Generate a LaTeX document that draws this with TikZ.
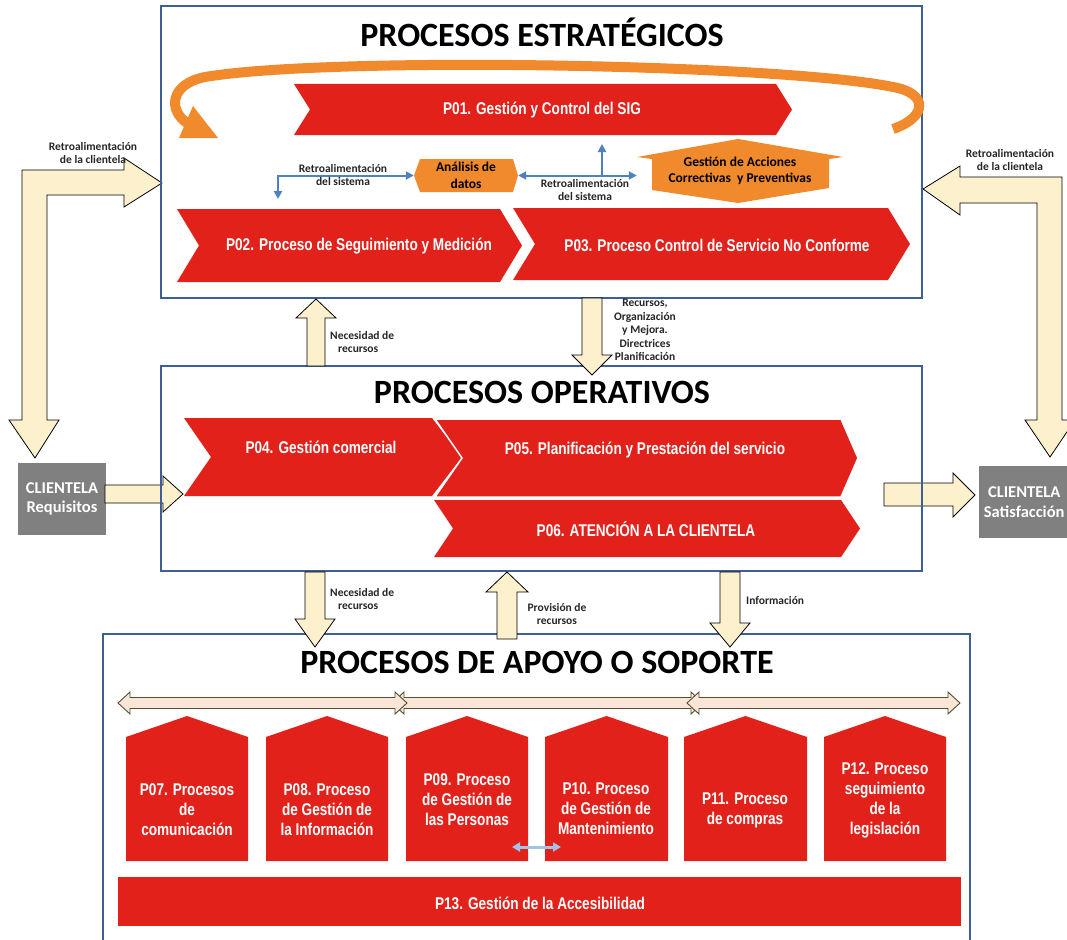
\documentclass[tikz,border=0pt]{standalone}
\usepackage{fontspec}
\setmainfont{Carlito}
\newfontfamily\narrowf[FakeStretch=0.8]{Liberation Sans}
\usetikzlibrary{arrows.meta}
\definecolor{redP}{RGB}{226,33,27}
\definecolor{frameB}{RGB}{60,96,150}
\definecolor{orangeP}{RGB}{240,138,44}
\definecolor{beigeP}{RGB}{253,241,205}
\definecolor{blueL}{RGB}{79,129,189}
\definecolor{peachP}{RGB}{251,229,214}
\definecolor{oliveP}{RGB}{80,80,50}
\definecolor{grayC}{RGB}{128,128,128}
\definecolor{lightblueP}{RGB}{160,196,230}
\newcommand\chevr[6]{\fill[redP] (#1,#3) -- ({#2-#6},#3) -- (#2,{(#3+#4)/2}) -- ({#2-#6},#4) -- (#1,#4) -- ({#1+#5},{(#3+#4)/2}) -- cycle;}
\newcommand\housep[2]{\fill[redP] (#1,861) -- (#1,737) -- ({(#1+#2)/2},716) -- (#2,737) -- (#2,861) -- cycle;}
\newcommand\dblarr[2]{\filldraw[fill=peachP,draw=oliveP,line width=0.9pt] (#1,703) -- ({#1+12},692) -- ({#1+12},697.5) -- ({#2-12},697.5) -- ({#2-12},692) -- (#2,703) -- ({#2-12},714) -- ({#2-12},708.5) -- ({#1+12},708.5) -- ({#1+12},714) -- cycle;}
\newcommand\uparr[6]{\filldraw[fill=beigeP,draw=black,line width=0.8pt] ({#1-#5},#2) -- ({#1-#5},#3) -- ({#1-#6},#3) -- (#1,#4) -- ({#1+#6},#3) -- ({#1+#5},#3) -- ({#1+#5},#2) -- cycle;}
\begin{document}
\begin{tikzpicture}[x=1pt,y=-1pt,
  frame/.style={draw=frameB,line width=2.8pt},
  redtxt/.style={text=white,font=\fontsize{17}{20}\selectfont\narrowf\bfseries,align=center,inner sep=0},
  lbl/.style={font=\bfseries\fontsize{11.5}{13.5}\selectfont,align=center,inner sep=0,text=black!85},
  titlef/.style={font=\bfseries\fontsize{34}{38}\selectfont,inner sep=0},
  orgtxt/.style={font=\bfseries\fontsize{13.5}{16.5}\selectfont,align=center,inner sep=0},
  bluearr/.style={draw=blueL,line width=2pt},
  graybox/.style={fill=grayC,text=white,font=\bfseries\fontsize{16.5}{19.5}\selectfont,align=center,inner sep=0}
]
\useasboundingbox (0,0) rectangle (1067,939);

% ---- left and right feedback L-arrows
\filldraw[fill=beigeP,draw=black,line width=0.8pt] (22,420) -- (9,420) -- (35,458) -- (59,420) -- (47,420) -- (47,195) -- (124,195) -- (124,207) -- (162,183) -- (124,158) -- (124,170) -- (22,170) -- cycle;
\filldraw[fill=beigeP,draw=black,line width=0.8pt] (923,189) -- (960,166) -- (960,177) -- (1062,177) -- (1062,420) -- (1075,420) -- (1050,457) -- (1025,420) -- (1037,420) -- (1037,203) -- (960,203) -- (960,215) -- cycle;
\node[lbl] (fbl) at (93,153) {Retroalimentación\\de la clientela};
\node[lbl] (fbr) at (1010,160) {Retroalimentación\\de la clientela};

% ---- clientela boxes
\node[graybox,minimum width=88,minimum height=72] (req) at (62,499) {CLIENTELA\\Requisitos};
\node[graybox,minimum width=96,minimum height=72,anchor=west] (sat) at (979,502) {\hspace*{-6pt}CLIENTELA\\\hspace*{-6pt}Satisfacción};
\filldraw[fill=beigeP,draw=black,line width=0.8pt] (105,485) -- (163,485) -- (163,476) -- (183,494) -- (163,512) -- (163,503) -- (105,503) -- cycle;
\filldraw[fill=beigeP,draw=black,line width=0.8pt] (884,483) -- (953,483) -- (953,473) -- (975,495) -- (953,517) -- (953,506) -- (884,506) -- cycle;

% ---- frames
\draw[frame] (161,6) rectangle (922,298);
\draw[frame] (161,366) rectangle (922,571);
\draw[frame] (103,945) -- (103,634) -- (970,634) -- (970,945);

% ---- titles
\node[titlef] (t1) at (542,32) {PROCESOS ESTRATÉGICOS};
\node[titlef] (t2) at (542,392) {PROCESOS OPERATIVOS};
\node[titlef] (t3) at (537,662) {PROCESOS DE APOYO O SOPORTE};

% ---- strategic
\chevr{294}{792}{84}{135}{16}{16}
\node[redtxt] (p01) at (542,110) {P01. Gestión y Control del SIG};
\chevr{177}{522}{209}{282}{22}{22}
\node[redtxt] (p02) at (359,246) {P02. Proceso de Seguimiento y Medición};
\chevr{513}{910}{208}{280}{22}{22}
\node[redtxt] (p03) at (717,245) {P03. Proceso Control de Servicio No Conforme};

% orange loop arrow
\draw[orangeP,line width=10pt] (893,129) .. controls (928,117) and (928,93) .. (893,87) .. controls (780,64) and (330,56) .. (205,77) .. controls (170,84) and (168,110) .. (187,123);
\fill[orangeP] (179,138) -- (193,106) -- (218,138) -- cycle;

% analysis hexagon
\fill[orangeP] (414,175.5) -- (420,159) -- (513,159) -- (518,175.5) -- (513,192) -- (420,192) -- cycle;
\node[orgtxt,minimum width=104,minimum height=33] (an) at (466,175.5) {Análisis de\\datos};
% acciones shape
\fill[orangeP] (738,139) -- (843,157) -- (829,159) -- (829,188) -- (738,203) -- (652,190) -- (652,159) -- (637,157) -- cycle;
\node[orgtxt,minimum width=206,minimum height=30] (ga) at (740,171) {Gestión de Acciones\\Correctivas \ y Preventivas};

% blue feedback connectors
\coordinate (lcorner) at (278,175.5);
\coordinate (ldown) at (278,199);
\draw[bluearr,{Triangle[length=8pt,width=8pt]}-{Triangle[length=8pt,width=8pt]}] (ldown) -- (lcorner) -- (an.west);
\draw[bluearr,{Triangle[length=8pt,width=8pt]}-{Triangle[length=8pt,width=8pt]}] (an.east) -- (an.east -| ga.west);
\coordinate (ufoot) at (602,175.5);
\coordinate (utop) at (602,144);
\draw[bluearr,-{Triangle[length=8pt,width=8pt]}] (ufoot) -- (utop);
\node[lbl] (rs1) at (343,175) {Retroalimentación\\del sistema};
\node[lbl] (rs2) at (585,190) {Retroalimentación\\del sistema};

% ---- arrows strategic <-> operative
\uparr{316}{366}{318}{299}{9}{20}
\node[lbl,align=left,anchor=west] (nr1) at (330,342) {Necesidad de\\\hspace*{8pt}recursos};
\uparr{592}{298}{355}{375}{10}{20}
\node[lbl] (rec) at (645,330) {Recursos,\\Organización\\y Mejora.\\Directrices\\Planificación};

% ---- operative
\chevr{184}{462}{418}{496}{27}{30}
\node[redtxt] (p04) at (321,447) {P04. Gestión comercial};
\filldraw[fill=redP,draw=white,line width=1.5pt] (435,419) -- (841,419) -- (858,458) -- (841,497) -- (435,497) -- (462,458) -- cycle;
\node[redtxt] (p05) at (645,450) {P05. Planificación y Prestación del servicio};
\chevr{434}{860}{500}{557}{19}{19}
\node[redtxt] (p06) at (646,529) {P06. ATENCIÓN A LA CLIENTELA};

% ---- arrows operative <-> support
\uparr{315}{572}{619}{647}{10}{20}
\node[lbl,align=left,anchor=west] (nr2) at (330,599) {Necesidad de\\\hspace*{8pt}recursos};
\uparr{507}{639}{592}{572}{10}{21}
\node[lbl] (prov) at (557,614) {Provisión de\\recursos};
\uparr{730}{572}{623}{647}{10}{20}
\node[lbl,anchor=west] (inf) at (746,600) {Información};

% ---- support
\dblarr{392}{703}
\dblarr{118}{407}
\dblarr{687}{960}
\housep{126}{248}
\node[redtxt] (p07) at (187,810) {P07. Procesos\\de\\comunicación};
\housep{266}{388}
\node[redtxt] (p08) at (327,810) {P08. Proceso\\de Gestión de\\la Información};
\housep{406}{528}
\node[redtxt] (p09) at (467,800) {P09. Proceso\\de Gestión de\\las Personas};
\housep{545}{668}
\node[redtxt] (p10) at (606,809) {P10. Proceso\\de Gestión de\\Mantenimiento};
\housep{684}{807}
\node[redtxt] (p11) at (745,810) {P11. Proceso\\de compras};
\housep{824}{946}
\node[redtxt] (p12) at (885,800) {P12. Proceso\\seguimiento\\de la\\legislación};
\coordinate (lbA) at (512,847);
\coordinate (lbB) at (561,847);
\draw[lightblueP,line width=3pt,{Triangle[length=8pt,width=9pt]}-{Triangle[length=8pt,width=9pt]}] (lbA) -- (lbB);
\fill[redP] (118,877) rectangle (961,926);
\node[redtxt] (p13) at (540,903) {P13. Gestión de la Accesibilidad};
\end{tikzpicture}
\end{document}
